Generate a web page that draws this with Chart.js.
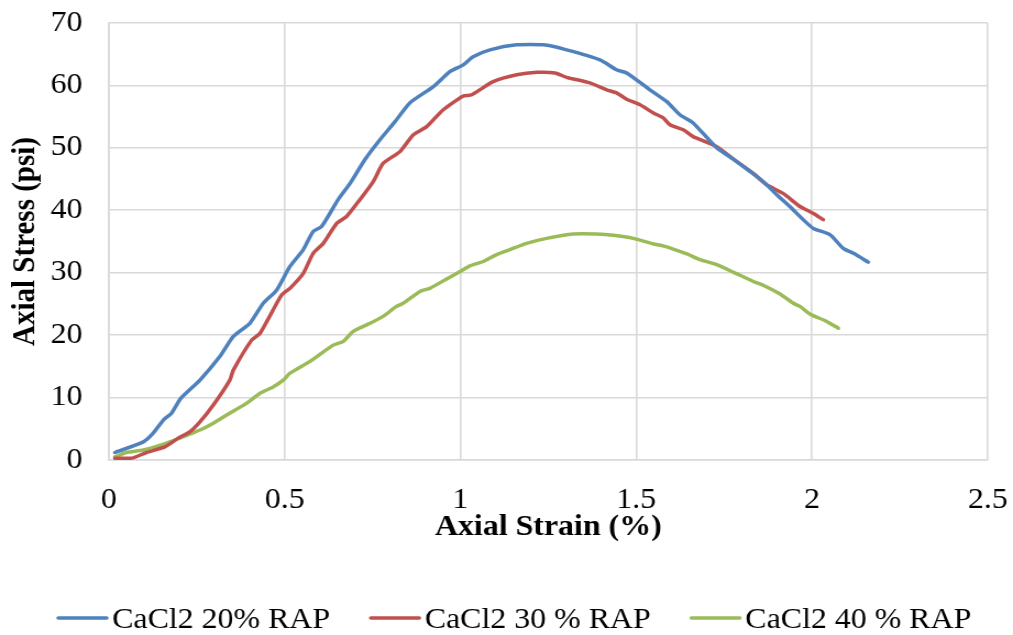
<!DOCTYPE html>
<html>
<head>
<meta charset="utf-8">
<script src="https://cdn.jsdelivr.net/npm/chart.js@4.4.1/dist/chart.umd.min.js"></script>
<style>
  html, body { margin: 0; padding: 0; background: #ffffff; overflow: hidden; }
  #wrap { width: 921px; height: 635px; transform: scaleX(1.0999); transform-origin: 0 0; }
</style>
</head>
<body>
<div id="wrap"><canvas id="chart"></canvas></div>
<script>
// Axial strain (%) and axial stress (psi) for each RAP content
const strain20 = [0.017, 0.098, 0.126, 0.155, 0.178, 0.205, 0.259, 0.316, 0.354, 0.401, 0.439, 0.477, 0.515, 0.553, 0.581, 0.605, 0.652, 0.686, 0.728, 0.771, 0.814, 0.856, 0.923, 0.970, 1.008, 1.036, 1.084, 1.160, 1.236, 1.302, 1.397, 1.444, 1.473, 1.539, 1.587, 1.624, 1.662, 1.729, 1.786, 1.824, 1.861, 1.900, 1.937, 1.975, 2.004, 2.051, 2.089, 2.118, 2.160];
const stress20 = [1.2, 2.9, 4.3, 6.4, 7.5, 9.9, 12.8, 16.6, 19.8, 21.9, 25.1, 27.2, 31.0, 33.7, 36.6, 37.4, 41.7, 44.3, 48.1, 51.3, 54.2, 57.2, 59.8, 62.2, 63.3, 64.6, 65.7, 66.5, 66.5, 65.7, 64.1, 62.5, 62.0, 59.3, 57.4, 55.3, 54.0, 50.0, 47.8, 46.2, 44.6, 42.5, 40.6, 38.5, 37.1, 36.1, 33.9, 33.1, 31.7];

const strain30 = [0.017, 0.065, 0.107, 0.159, 0.197, 0.230, 0.259, 0.297, 0.344, 0.354, 0.406, 0.430, 0.491, 0.515, 0.553, 0.581, 0.610, 0.648, 0.676, 0.714, 0.752, 0.780, 0.828, 0.866, 0.904, 0.951, 1.008, 1.032, 1.093, 1.160, 1.217, 1.269, 1.302, 1.368, 1.416, 1.444, 1.473, 1.511, 1.549, 1.577, 1.596, 1.634, 1.662, 1.729, 1.786, 1.833, 1.871, 1.918, 1.966, 2.004, 2.032];
const stress30 = [0.3, 0.3, 1.2, 2.1, 3.5, 4.5, 6.1, 8.8, 12.8, 14.4, 19.2, 20.3, 26.4, 27.5, 29.9, 33.1, 34.7, 37.9, 39.0, 41.7, 44.6, 47.5, 49.4, 52.1, 53.4, 56.1, 58.3, 58.5, 60.6, 61.7, 62.1, 62.0, 61.3, 60.4, 59.3, 58.8, 57.8, 56.9, 55.6, 54.8, 53.7, 52.9, 51.8, 50.2, 47.8, 45.9, 44.1, 42.7, 40.6, 39.5, 38.5];

const strain40 = [0.017, 0.050, 0.098, 0.164, 0.211, 0.259, 0.297, 0.335, 0.392, 0.430, 0.467, 0.496, 0.515, 0.572, 0.638, 0.667, 0.695, 0.743, 0.780, 0.818, 0.837, 0.885, 0.913, 0.961, 0.999, 1.027, 1.065, 1.103, 1.141, 1.188, 1.245, 1.321, 1.387, 1.435, 1.492, 1.549, 1.577, 1.644, 1.681, 1.729, 1.776, 1.833, 1.861, 1.909, 1.947, 1.966, 1.994, 2.042, 2.075];
const stress40 = [0.5, 1.2, 1.6, 2.7, 3.7, 4.8, 5.9, 7.2, 9.1, 10.7, 11.7, 12.8, 13.9, 15.8, 18.4, 19.0, 20.6, 21.9, 23.0, 24.6, 25.1, 27.0, 27.5, 29.0, 30.2, 31.1, 31.8, 32.9, 33.7, 34.7, 35.5, 36.2, 36.2, 36.0, 35.5, 34.6, 34.3, 33.0, 32.1, 31.3, 30.1, 28.6, 28.0, 26.6, 25.1, 24.6, 23.4, 22.2, 21.1];

const seriesLabels = ['CaCl2 20% RAP', 'CaCl2 30 % RAP', 'CaCl2 40 % RAP'];
const seriesColors = ['#4f81bd', '#c0504d', '#9bbb59'];

const xTitle = 'Axial Strain (%)';
const yTitle = 'Axial Stress (psi)';

const FONT = "'Liberation Serif', 'Times New Roman', serif";
const GRID = '#d9d9d9';

function toPoints(xs, ys) {
  return xs.map((x, i) => ({ x: x, y: ys[i] }));
}

const pairs = [[strain20, stress20], [strain30, stress30], [strain40, stress40]];
const datasets = pairs.map((p, i) => ({
  label: seriesLabels[i],
  data: toPoints(p[0], p[1]),
  borderColor: seriesColors[i],
  backgroundColor: seriesColors[i],
  borderWidth: 3.5,
  pointRadius: 0,
  tension: 0.2,
  borderCapStyle: 'round',
  borderJoinStyle: 'round',
  fill: false
}));

// Legend row drawn under the axis title
const bottomLegend = {
  id: 'bottomLegend',
  afterDraw(chart) {
    const ctx = chart.ctx;
    const sample = 48, textGap = 3, itemGap = 35, cy = 620, centerX = 467;
    ctx.save();
    ctx.font = '29px ' + FONT;
    ctx.textBaseline = 'middle';
    ctx.textAlign = 'left';
    const widths = chart.data.datasets.map(d => ctx.measureText(d.label).width);
    const total = widths.reduce((a, w) => a + sample + textGap + w, 0) + itemGap * (widths.length - 1);
    let x = centerX - total / 2;
    chart.data.datasets.forEach((d, i) => {
      ctx.strokeStyle = d.borderColor;
      ctx.lineWidth = 3.5;
      ctx.lineCap = 'round';
      ctx.beginPath();
      ctx.moveTo(x + 2, cy - 2);
      ctx.lineTo(x + sample - 2, cy - 2);
      ctx.stroke();
      ctx.fillStyle = '#000000';
      ctx.fillText(d.label, x + sample + textGap, cy);
      x += sample + textGap + widths[i] + itemGap;
    });
    ctx.restore();
  }
};

new Chart(document.getElementById('chart'), {
  type: 'line',
  data: { datasets: datasets },
  options: {
    responsive: true,
    maintainAspectRatio: false,
    animation: false,
    devicePixelRatio: 1,
    layout: { padding: { top: 23, right: 23, bottom: 0, left: 0 } },
    plugins: {
      legend: { display: false },
      tooltip: { enabled: false }
    },
    scales: {
      x: {
        type: 'linear',
        min: 0,
        max: 2.5,
        ticks: {
          stepSize: 0.5,
          color: '#000000',
          padding: 23,
          font: { family: FONT, size: 29 },
          maxRotation: 0,
          callback: (v) => String(Number(v.toFixed(2)))
        },
        grid: { color: GRID, lineWidth: 1.6, drawTicks: false },
        border: { color: GRID, width: 1.6 },
        title: {
          display: true,
          text: xTitle,
          color: '#000000',
          font: { family: FONT, size: 29, weight: 'bold' },
          padding: { top: 0, bottom: 90 }
        },
        afterFit(scale) {
          scale.height = 175;
          scale.paddingLeft = 0;
          scale.paddingRight = 0;
        }
      },
      y: {
        min: 0,
        max: 70,
        ticks: {
          stepSize: 10,
          color: '#000000',
          padding: 24,
          font: { family: FONT, size: 29 }
        },
        grid: { color: GRID, lineWidth: 1.6, drawTicks: false },
        border: { color: GRID, width: 1.6 },
        title: {
          display: true,
          text: yTitle,
          color: '#000000',
          font: { family: FONT, size: 29, weight: 'bold' },
          padding: { top: 6, bottom: 0 }
        },
        afterFit(scale) {
          scale.width = 99;
          scale.paddingTop = 0;
          scale.paddingBottom = 0;
        }
      }
    }
  },
  plugins: [bottomLegend]
});
</script>
</body>
</html>
